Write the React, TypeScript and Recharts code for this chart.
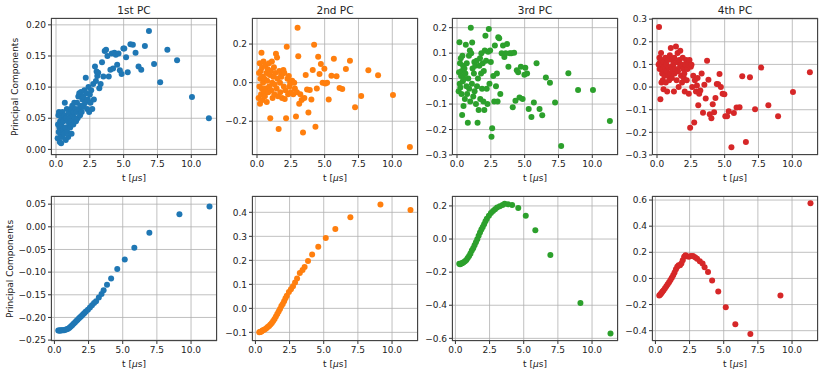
import React from 'react';
import { ScatterChart, Scatter, XAxis, YAxis, CartesianGrid } from 'recharts';

// top row: per-sample scores, shared time axis
const tTop = [
  0.12, 0.15, 0.18, 0.2, 0.22, 0.25, 0.28, 0.3, 0.33, 0.35, 0.38, 0.4, 0.43, 0.45, 0.48, 0.5,
  0.55, 0.58, 0.62, 0.65, 0.7, 0.72, 0.75, 0.8, 0.83, 0.88, 0.9, 0.95, 0.98,
  1.02, 1.05, 1.1, 1.12, 1.15, 1.2, 1.25, 1.28, 1.3, 1.35, 1.4, 1.45, 1.48,
  1.52, 1.55, 1.6, 1.65, 1.7, 1.72, 1.78, 1.8, 1.85, 1.9, 1.95, 1.98,
  2.02, 2.05, 2.1, 2.15, 2.2, 2.25, 2.3, 2.35, 2.4, 2.45, 2.5,
  2.55, 2.6, 2.68, 2.75, 2.8, 2.88, 2.95, 3.0,
  3.05, 3.12, 3.2, 3.3, 3.4, 3.5, 3.6, 3.7, 3.8, 3.9,
  4.02, 4.12, 4.22, 4.32, 4.42, 4.52, 4.62, 4.72, 4.85, 4.98,
  5.05, 5.18, 5.3, 5.5, 5.68, 5.88, 6.1, 6.3, 6.57, 6.87,
  7.25, 7.7, 8.23, 8.95, 10.05, 11.3,
];
const pc1Top = [
  0.018, 0.04, 0.055, 0.028, 0.06, 0.035, 0.012, 0.045, 0.025, 0.058, 0.01, 0.038, 0.05, 0.02, 0.06, 0.032,
  0.045, 0.025, 0.055, 0.075, 0.035, 0.015, 0.05, 0.065, 0.028, 0.045, 0.02, 0.058, 0.04,
  0.05, 0.035, 0.065, 0.045, 0.025, 0.07, 0.055, 0.04, 0.06, 0.075, 0.05, 0.065, 0.045,
  0.06, 0.075, 0.05, 0.085, 0.065, 0.09, 0.055, 0.07, 0.092, 0.06, 0.08, 0.068,
  0.085, 0.07, 0.095, 0.075, 0.115, 0.09, 0.065, 0.08, 0.1, 0.06, 0.088,
  0.075, 0.095, 0.065, 0.105, 0.08, 0.133, 0.11, 0.125,
  0.118, 0.123, 0.098, 0.105, 0.14, 0.117, 0.158, 0.16, 0.15, 0.117,
  0.128, 0.154, 0.13, 0.155, 0.152, 0.136, 0.154, 0.127, 0.121, 0.162,
  0.162, 0.148, 0.124, 0.169, 0.168, 0.155, 0.133, 0.128, 0.166, 0.19,
  0.137, 0.108, 0.16, 0.143, 0.084, 0.05,
];
const pc2Top = [
  -0.08, 0.05, -0.02, 0.1, -0.11, 0.02, 0.06, -0.06, 0.155, -0.03, 0.08, -0.09, 0.03, 0.0, 0.11, -0.05,
  0.02, -0.07, 0.09, -0.03, 0.05, -0.1, 0.01, 0.07, -0.05, 0.1, -0.02, 0.04, -0.185,
  0.06, -0.04, 0.11, 0.0, -0.08, 0.03, 0.08, -0.06, -0.01, 0.05, 0.15, -0.03, 0.13,
  0.02, -0.07, -0.24, 0.06, 0.0, -0.05, 0.04, 0.03, -0.08, 0.05, 0.065, -0.02,
  0.05, -0.085, -0.04, -0.185, 0.186, 0.02, -0.06, 0.035, -0.02, 0.0, -0.05,
  0.0, 0.01, -0.06, 0.0, -0.03, -0.176, -0.05, 0.285,
  0.137, -0.11, -0.06, -0.09, -0.258, -0.08, 0.04, -0.035, -0.155, -0.038,
  -0.088, 0.066, 0.197, -0.229, -0.03, 0.134, 0.045, 0.097, 0.0, 0.072,
  -0.005, 0.0, -0.088, 0.036, 0.124, 0.033, -0.028, -0.033, 0.071, 0.114,
  -0.128, -0.069, 0.064, 0.038, -0.064, -0.333,
];
const pc3Top = [
  -0.05, 0.025, 0.143, -0.02, 0.06, -0.035, 0.08, 0.01, -0.06, 0.03, -0.143, 0.09, -0.01, 0.05, -0.108, 0.0,
  0.04, -0.08, 0.02, 0.133, -0.03, 0.06, -0.06, -0.173, 0.0, 0.09, -0.04, 0.11, -0.09,
  0.2, 0.1, -0.02, 0.142, 0.04, -0.07, 0.02, 0.065, -0.05, 0.05, -0.1, 0.07, -0.03,
  -0.173, 0.0, -0.123, 0.05, 0.08, -0.08, 0.02, 0.1, -0.04, 0.06, -0.09, 0.03,
  -0.123, 0.11, 0.168, 0.07, -0.04, -0.1, 0.105, 0.195, -0.02, 0.11, 0.065,
  -0.228, -0.195, 0.01, -0.09, 0.13, -0.03, 0.02, -0.09,
  0.162, 0.158, -0.06, 0.1, 0.13, 0.085, 0.1, 0.136, 0.047, 0.1,
  0.1, -0.112, 0.102, -0.087, 0.033, 0.025, -0.074, 0.047, -0.08, 0.015,
  0.043, 0.02, -0.119, -0.151, -0.094, 0.06, -0.119, -0.144, 0.004, -0.016,
  -0.094, -0.265, 0.021, -0.045, -0.045, -0.166,
];
const pc4Top = [
  0.1, 0.265, 0.13, 0.08, 0.11, -0.054, 0.09, 0.15, 0.02, 0.12, 0.06, 0.1, 0.03, 0.08, -0.01, 0.11,
  0.05, 0.09, 0.13, 0.02, 0.1, 0.07, -0.02, 0.12, 0.05, 0.085, 0.03, 0.14, 0.06,
  0.172, 0.09, 0.04, 0.12, 0.07, 0.1, -0.02, 0.13, 0.06, 0.08, 0.179, 0.03, 0.11,
  0.15, 0.07, 0.0, 0.12, 0.09, 0.16, 0.05, 0.1, 0.02, 0.13, 0.08, 0.04,
  0.06, -0.02, 0.1, 0.12, 0.03, 0.08, 0.1, -0.03, 0.12, -0.18, 0.09,
  0.098, 0.0, 0.05, -0.157, 0.03, -0.02, 0.007, 0.04,
  -0.08, -0.03, -0.015, 0.06, -0.113, 0.01, -0.05, 0.116, 0.032, -0.12,
  -0.138, -0.076, -0.111, -0.048, 0.013, 0.012, 0.058, 0.0, -0.03, -0.032,
  -0.129, -0.129, -0.107, -0.266, -0.115, -0.09, -0.089, 0.048, -0.243, 0.043,
  -0.098, 0.086, -0.08, -0.129, -0.022, 0.065,
];

// bottom row: component vectors over t
const tBot = [
  0.28, 0.34, 0.4, 0.46, 0.52, 0.6, 0.7, 0.8, 0.9, 1.0, 1.1, 1.2, 1.3, 1.4, 1.5, 1.6, 1.7, 1.8, 1.9, 2.0,
  2.1, 2.2, 2.3, 2.45, 2.6, 2.75, 2.9, 3.05, 3.25, 3.45, 3.6, 3.85, 4.15, 4.6, 5.15, 5.85, 6.95, 9.15, 11.35,
];
const pc1Bot = [
  -0.229, -0.229, -0.229, -0.229, -0.228, -0.228, -0.228, -0.227, -0.226, -0.225, -0.223, -0.22, -0.217, -0.214,
  -0.211, -0.208, -0.205, -0.202, -0.199, -0.196, -0.193, -0.19, -0.187, -0.183, -0.178, -0.173, -0.168, -0.164,
  -0.156, -0.148, -0.14, -0.128, -0.114, -0.093, -0.072, -0.046, -0.013, 0.028, 0.045,
];
const pc2Bot = [
  -0.1, -0.099, -0.097, -0.095, -0.092, -0.09, -0.087, -0.083, -0.078, -0.073, -0.067, -0.061, -0.053, -0.044,
  -0.034, -0.024, -0.013, -0.003, 0.01, 0.018, 0.03, 0.042, 0.052, 0.068, 0.08, 0.092, 0.108, 0.124,
  0.147, 0.16, 0.172, 0.197, 0.224, 0.257, 0.293, 0.331, 0.38, 0.433, 0.41,
];
const pc3Bot = [
  -0.15, -0.152, -0.15, -0.147, -0.145, -0.14, -0.134, -0.127, -0.115, -0.103, -0.088, -0.07, -0.055, -0.038,
  -0.02, -0.002, 0.02, 0.04, 0.058, 0.072, 0.09, 0.108, 0.122, 0.14, 0.158, 0.17, 0.18, 0.19,
  0.198, 0.205, 0.213, 0.21, 0.205, 0.188, 0.14, 0.053, -0.097, -0.387, -0.57,
];
const pc4Bot = [
  -0.13, -0.125, -0.118, -0.11, -0.1, -0.09, -0.075, -0.06, -0.045, -0.03, -0.012, 0.005, 0.025, 0.045,
  0.07, 0.09, 0.1, 0.1, 0.115, 0.14, 0.165, 0.178, 0.17, 0.166, 0.172, 0.172, 0.162, 0.15,
  0.132, 0.115, 0.085, 0.05, -0.015, -0.1, -0.22, -0.35, -0.425, -0.13, 0.575,
];

const titles = ['1st PC', '2nd PC', '3rd PC', '4th PC'];
const colors = ['#1f77b4', '#ff7f0e', '#2ca02c', '#d62728'];
const xTicks = [0, 2.5, 5, 7.5, 10];

const FONT = '"DejaVu Sans", sans-serif';
const COL_LEFT = [51, 252, 452, 652];
const COL_W = 166;
const ROWS = [{ top: 18, h: 137, xDomain: [-0.37, 11.9] }, { top: 196, h: 145, xDomain: [-0.25, 11.9] }];

const fmt = (d: number) => (v: number) => {
  const r = Math.abs(v) < 1e-9 ? 0 : v;
  return r.toFixed(d).replace('-', '\u2212');
};

const panels = [
  { row: 0, col: 0, xs: tTop, ys: pc1Top, yDomain: [-0.009, 0.211], yTicks: [0, 0.05, 0.1, 0.15, 0.2], dec: 2 },
  { row: 0, col: 1, xs: tTop, ys: pc2Top, yDomain: [-0.375, 0.335], yTicks: [-0.2, 0, 0.2], dec: 1 },
  { row: 0, col: 2, xs: tTop, ys: pc3Top, yDomain: [-0.3, 0.238], yTicks: [-0.3, -0.2, -0.1, 0, 0.1, 0.2], dec: 1 },
  { row: 0, col: 3, xs: tTop, ys: pc4Top, yDomain: [-0.3, 0.305], yTicks: [-0.3, -0.2, -0.1, 0, 0.1, 0.2, 0.3], dec: 1 },
  { row: 1, col: 0, xs: tBot, ys: pc1Bot, yDomain: [-0.252, 0.068], yTicks: [-0.25, -0.2, -0.15, -0.1, -0.05, 0, 0.05], dec: 2 },
  { row: 1, col: 1, xs: tBot, ys: pc2Bot, yDomain: [-0.136, 0.468], yTicks: [-0.1, 0, 0.1, 0.2, 0.3, 0.4], dec: 1 },
  { row: 1, col: 2, xs: tBot, ys: pc3Bot, yDomain: [-0.616, 0.26], yTicks: [-0.6, -0.4, -0.2, 0, 0.2], dec: 1 },
  { row: 1, col: 3, xs: tBot, ys: pc4Bot, yDomain: [-0.479, 0.631], yTicks: [-0.4, -0.2, 0, 0.2, 0.4, 0.6], dec: 1 },
];

const tickStyle = { fill: '#222', fontSize: 9, fontFamily: FONT };

const Dot = (props: any) => <circle cx={props.cx} cy={props.cy} r={3} fill={props.fill} />;

function Panel({ p }: { p: any }) {
  const left = COL_LEFT[p.col];
  const { top, h, xDomain } = ROWS[p.row];
  const w = COL_W;
  const padL = 50, padT = 20, padR = 10, padB = 30;
  const data = p.xs.map((x: number, i: number) => ({ x, y: p.ys[i] }));
  return (
    <>
      <div style={{ position: 'absolute', left: left - padL, top: top - padT }}>
        <ScatterChart width={w + padL + padR} height={h + padT + padB} margin={{ top: padT, right: padR, bottom: 0, left: 0 }}>
          <CartesianGrid stroke="#b0b0b0" strokeWidth={0.8} />
          <XAxis type="number" dataKey="x" domain={xDomain} ticks={xTicks} tickFormatter={fmt(1)} height={padB}
            axisLine={false} tickSize={3} tickMargin={3} stroke="#333" tick={tickStyle} allowDataOverflow interval={0} />
          <YAxis type="number" dataKey="y" domain={p.yDomain} ticks={p.yTicks} tickFormatter={fmt(p.dec)} width={padL}
            axisLine={false} tickSize={3} tickMargin={2} stroke="#333" tick={tickStyle} allowDataOverflow interval={0} />
          <Scatter data={data} fill={colors[p.col]} shape={Dot} isAnimationActive={false} />
        </ScatterChart>
      </div>
      <div style={{ position: 'absolute', left, top, width: w, height: h, border: '1px solid #444', boxSizing: 'border-box', pointerEvents: 'none' }} />
      {p.row === 0 && (
        <div style={{ position: 'absolute', left: left + w / 2, top: 10, transform: 'translate(-50%, -50%)', fontSize: 10.5, fontFamily: FONT, color: '#222', whiteSpace: 'nowrap', lineHeight: 1 }}>
          {titles[p.col]}
        </div>
      )}
      <div style={{ position: 'absolute', left: left + w / 2, top: top + h + 23, transform: 'translate(-50%, -50%)', fontSize: 9, fontFamily: FONT, color: '#222', whiteSpace: 'nowrap', lineHeight: 1 }}>
        t [<i>μ</i>s]
      </div>
      {p.col === 0 && (
        <div style={{ position: 'absolute', left: p.row === 0 ? 15 : 9.5, top: top + h / 2, transform: 'translate(-50%, -50%) rotate(-90deg)', fontSize: 9, fontFamily: FONT, color: '#222', whiteSpace: 'nowrap', lineHeight: 1 }}>
          Principal Components
        </div>
      )}
    </>
  );
}

export default function App() {
  return (
    <div style={{ position: 'absolute', left: 0, top: 0, width: 831, height: 378, background: '#fff', overflow: 'hidden' }}>
      {panels.map((p, i) => <Panel key={i} p={p} />)}
    </div>
  );
}
